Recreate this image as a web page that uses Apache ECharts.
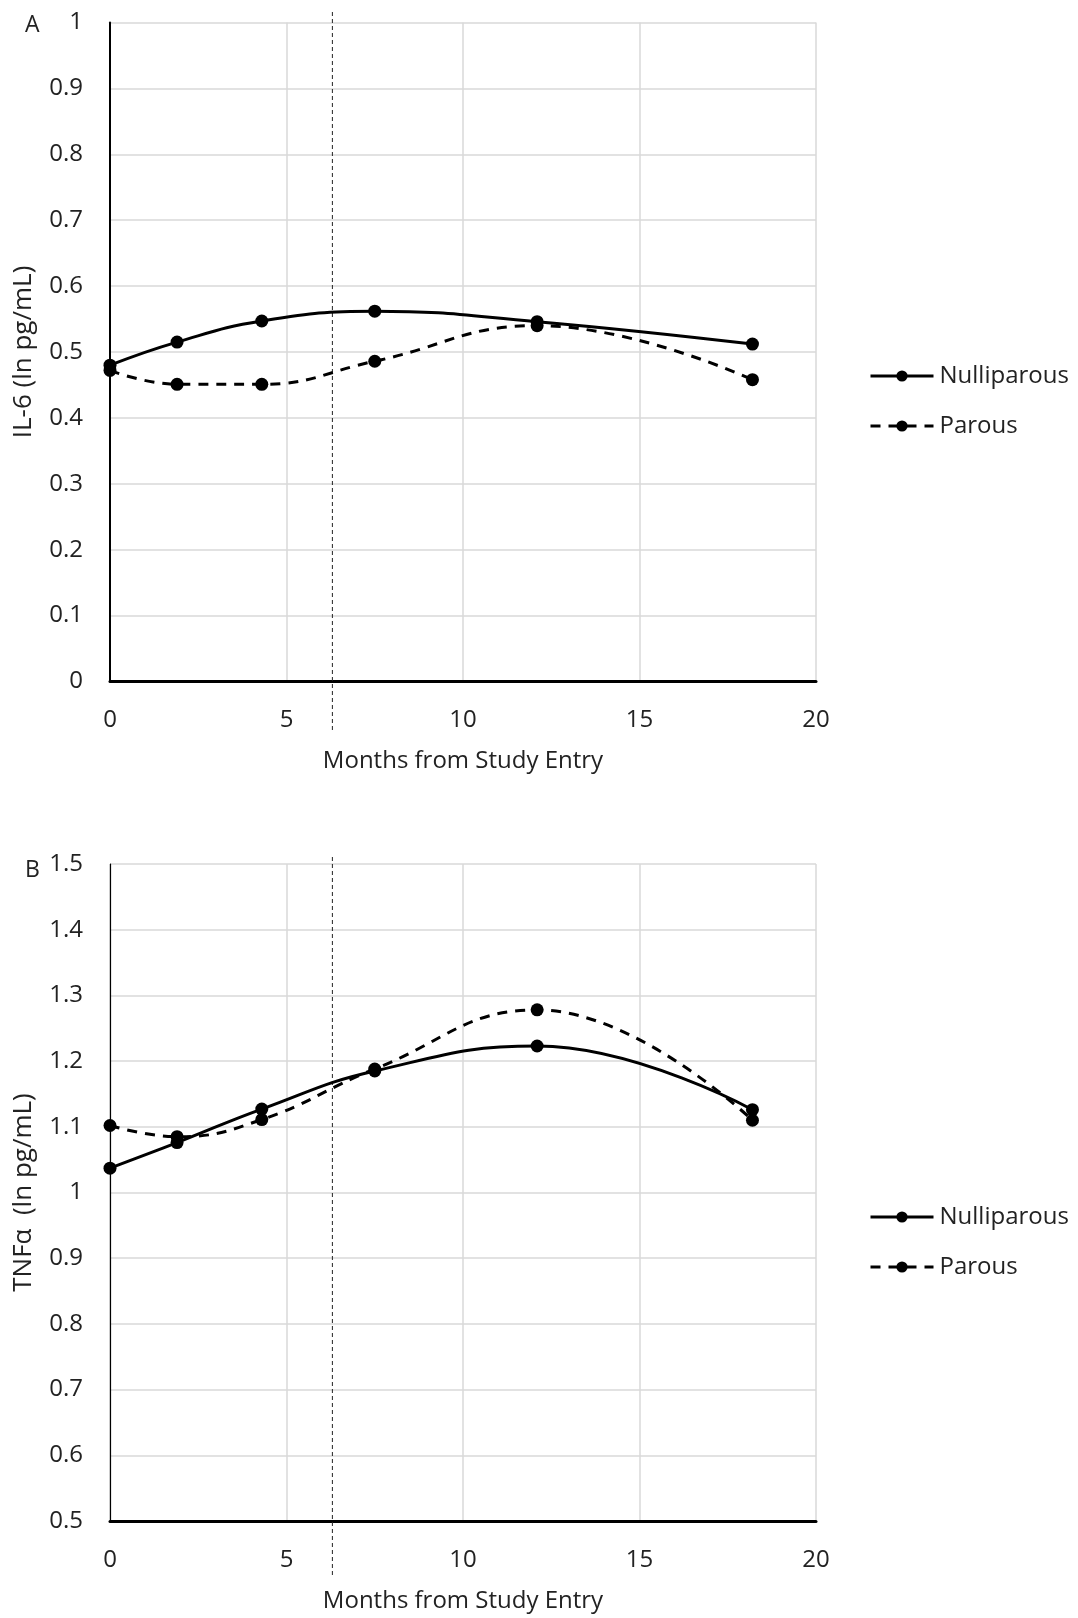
<!DOCTYPE html>
<html>
<head>
<meta charset="utf-8">
<script src="https://cdn.jsdelivr.net/npm/echarts@6/dist/echarts.min.js"></script>
<style>
  html, body { margin: 0; padding: 0; background: #fff; }
  #chart-panel { width: 1078px; height: 1618px; }
</style>
</head>
<body>
<div id="chart-panel"></div>
<script>
// months from study entry (same visits for both panels)
var months = [0, 1.9, 4.3, 7.5, 12.1, 18.2];

// panel A: IL-6 (ln pg/mL)
var il6Nulliparous = [0.480, 0.515, 0.547, 0.562, 0.546, 0.512];
var il6Parous      = [0.472, 0.451, 0.451, 0.486, 0.540, 0.458];

// panel B: TNFa (ln pg/mL)
var tnfNulliparous = [1.037, 1.076, 1.127, 1.185, 1.223, 1.126];
var tnfParous      = [1.102, 1.085, 1.111, 1.188, 1.278, 1.110];

// dashed reference line (month)
var refMonth = 6.3;

var seriesNames = ['Nulliparous', 'Parous'];

function pairs(xs, ys) {
    var out = [];
    for (var i = 0; i < xs.length; i++) out.push([xs[i], ys[i]]);
    return out;
}

var FONT = 'Open Sans';
var TXT = '#222';

function xAxisFor(gridIndex) {
    return {
        type: 'value', gridIndex: gridIndex, min: 0, max: 20, interval: 5,
        name: 'Months from Study Entry', nameLocation: 'middle', nameGap: 68,
        nameTextStyle: { fontFamily: FONT, fontSize: 24, color: TXT },
        axisLine: { show: true, onZero: false, lineStyle: { color: '#000', width: 3 } },
        axisTick: { show: false },
        axisLabel: { fontFamily: FONT, fontSize: 24, color: TXT, margin: 27 },
        splitLine: { show: true, lineStyle: { color: '#d9d9d9', width: 1.5 } }
    };
}
function yAxisFor(gridIndex, min, max, name, lw) {
    return {
        type: 'value', gridIndex: gridIndex, min: min, max: max, interval: 0.1,
        name: name, nameLocation: 'middle', nameGap: 73, nameRotate: 90,
        nameTextStyle: { fontFamily: FONT, fontSize: 26, color: TXT },
        axisLine: { show: true, onZero: false, lineStyle: { color: '#000', width: lw } },
        axisTick: { show: false },
        axisLabel: { fontFamily: FONT, fontSize: 24, color: TXT, margin: 27 },
        splitLine: { show: true, lineStyle: { color: '#d9d9d9', width: 1.5 } }
    };
}
function hiddenX(gridIndex) {
    return { type: 'value', gridIndex: gridIndex, min: 0, max: 20, show: false };
}
function hiddenY(gridIndex) {
    return { type: 'value', gridIndex: gridIndex, min: 0, max: 1, show: false };
}
function curve(name, data, axisIndex, dashed) {
    return {
        name: name, type: 'line', xAxisIndex: axisIndex, yAxisIndex: axisIndex,
        data: data, smooth: 0.45, symbol: 'circle', symbolSize: 13,
        itemStyle: { color: '#000' },
        lineStyle: { color: '#000', width: 3, type: dashed ? [10, 8] : 'solid' },
        z: 5
    };
}
function refLine(axisIndex) {
    return {
        name: 'ref', type: 'line', xAxisIndex: axisIndex, yAxisIndex: axisIndex,
        data: [[refMonth, 0], [refMonth, 1]], symbol: 'none', silent: true,
        lineStyle: { color: '#222', width: 1, type: [4, 3] }, z: 3
    };
}
function legendAt(top) {
    return {
        data: seriesNames, orient: 'vertical', left: 864, top: top,
        itemWidth: 63, itemHeight: 14, itemGap: 26,
        lineStyle: { width: 3 },
        textStyle: { fontFamily: FONT, fontSize: 24, lineHeight: 24, color: TXT, padding: [0, 0, 0, 1] }
    };
}

var myChart = echarts.init(document.getElementById('chart-panel'));
var option = {
    animation: false,
    backgroundColor: '#fff',
    title: [
        { text: 'A', left: 20, top: 9, textStyle: { fontFamily: FONT, fontSize: 23, fontWeight: 'normal', color: TXT } },
        { text: 'B', left: 20, top: 854, textStyle: { fontFamily: FONT, fontSize: 23, fontWeight: 'normal', color: TXT } }
    ],
    legend: [legendAt(359), legendAt(1200)],
    grid: [
        { left: 110, top: 22.5, width: 706, height: 659 },
        { left: 110, top: 864, width: 706, height: 657 },
        { left: 110, top: 12, width: 706, height: 718 },
        { left: 110, top: 854, width: 706, height: 721 }
    ],
    xAxis: [xAxisFor(0), xAxisFor(1), hiddenX(2), hiddenX(3)],
    yAxis: [
        yAxisFor(0, 0, 1, 'IL-6 (ln pg/mL)', 2),
        yAxisFor(1, 0.5, 1.5, 'TNFα  (ln pg/mL)', 1.2),
        hiddenY(2), hiddenY(3)
    ],
    series: [
        curve('Nulliparous', pairs(months, il6Nulliparous), 0, false),
        curve('Parous', pairs(months, il6Parous), 0, true),
        curve('Nulliparous', pairs(months, tnfNulliparous), 1, false),
        curve('Parous', pairs(months, tnfParous), 1, true),
        refLine(2),
        refLine(3)
    ]
};
myChart.setOption(option);
</script>
</body>
</html>
